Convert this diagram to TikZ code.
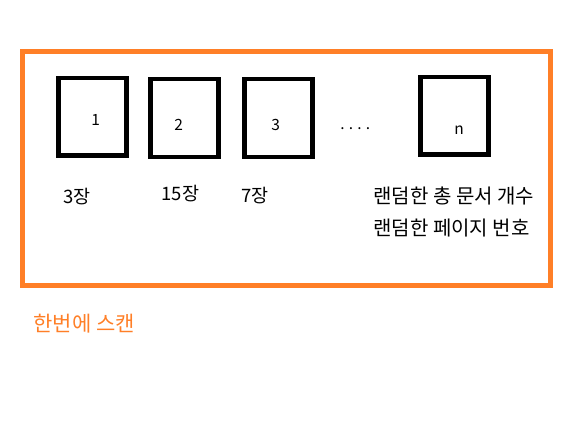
\documentclass[tikz,border=0pt]{standalone}
\usepackage{fontspec}
\newfontfamily\kr{Noto Sans CJK KR}
\usetikzlibrary{positioning}
\definecolor{scanorange}{RGB}{255,127,39}
\tikzset{
  scan-frame/.style={draw=scanorange,line width=5pt},
  doc-page/.style={draw=black,line width=4.3pt,minimum width=68pt,minimum height=77.5pt,inner sep=0pt},
  page-num/.style={inner sep=0pt,font=\kr\fontsize{15.5}{15.5}\selectfont},
  count-lbl/.style={inner sep=0pt,font=\kr\fontsize{18.5}{18.5}\selectfont},
  rand-lbl/.style={inner sep=0pt,anchor=west,font=\kr\fontsize{20}{20}\selectfont},
  scan-lbl/.style={inner sep=0pt,anchor=west,text=scanorange,font=\kr\fontsize{21}{21}\selectfont},
}
\begin{document}
\begin{tikzpicture}[x=1pt,y=-1pt]
  \useasboundingbox (0,0) rectangle (567,422);

  % frame
  \draw[scan-frame] (22.5,51.5) rectangle (550.5,285);

  % pages
  \node[doc-page] (d1) at (92.5,116.75) {};
  \node[doc-page] (d2) at (184.5,118)   {};
  \node[doc-page] (d3) at (278.5,118)   {};
  \node[doc-page] (dn) at (454.5,115.75) {};
  \node[page-num] (n1) at (95.7,120)  {1};
  \node[page-num] (n2) at (178.7,125) {2};
  \node[page-num] (n3) at (275.7,125) {3};
  \node[page-num] (nn) at (459,130)   {n};
  \node[page-num] (dots) at (355.3,128.5) {.\hspace{4.2pt}.\hspace{4.2pt}.\hspace{4.2pt}.};

  % counts
  \node[count-lbl] (c1) at (76.7,196.7) {3장};
  \node[count-lbl] (c2) at (180.5,194)  {15장};
  \node[count-lbl] (c3) at (255.3,195.7) {7장};
  \node[rand-lbl] (cn) at (373.3,195.7) {랜덤한 총 문서 개수};
  \node[rand-lbl] (pn) at (373.3,228.3) {랜덤한 페이지 번호};

  \node[scan-lbl] (once) at (33.3,323.3) {한번에 스캔};
\end{tikzpicture}
\end{document}
